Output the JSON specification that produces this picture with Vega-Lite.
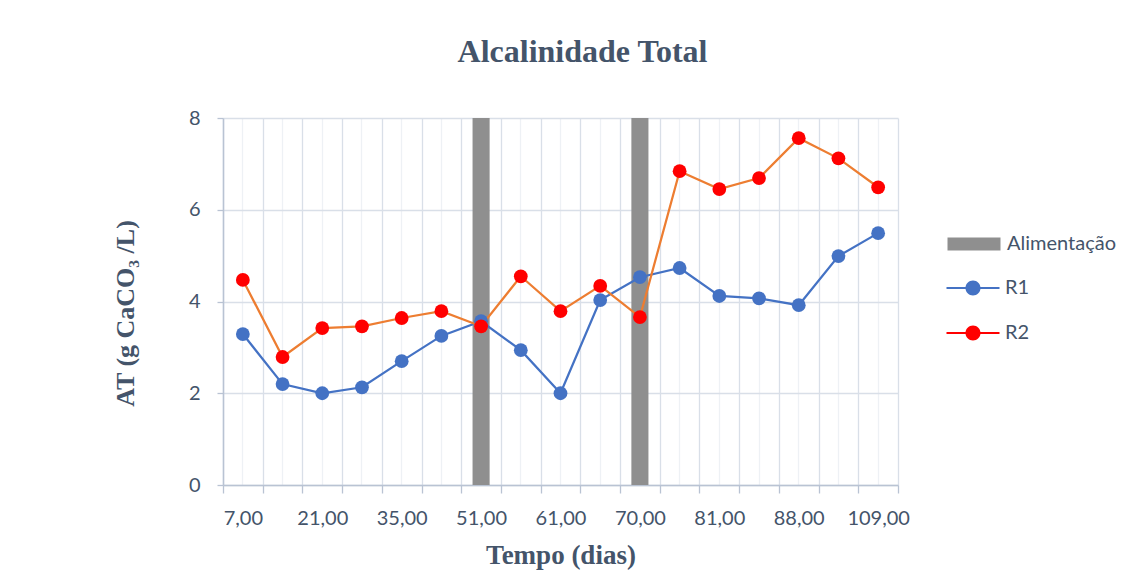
{
  "$schema": "https://vega.github.io/schema/vega-lite/v6.json",
  "width": 675,
  "height": 367,
  "autosize": "none",
  "padding": {"left": 223, "top": 118, "right": 242, "bottom": 98},
  "background": "white",
  "title": {
    "text": "Alcalinidade Total",
    "font": "Liberation Serif",
    "fontSize": 32,
    "fontWeight": "bold",
    "color": "#44546a",
    "anchor": "middle",
    "frame": "group",
    "baseline": "alphabetic",
    "dx": 22,
    "offset": 14
  },
  "datasets": {
    "alimentacao": [
      {"t": "51,00", "evento": "Alimentação", "at": 8},
      {"t": "70,00", "evento": "Alimentação", "at": 8}
    ],
    "reatores": [
      {"t": "7,00", "serie": "R1", "at": 3.29},
      {"t": "14,00", "serie": "R1", "at": 2.20},
      {"t": "21,00", "serie": "R1", "at": 2.00},
      {"t": "28,00", "serie": "R1", "at": 2.13},
      {"t": "35,00", "serie": "R1", "at": 2.70},
      {"t": "42,00", "serie": "R1", "at": 3.25},
      {"t": "51,00", "serie": "R1", "at": 3.57},
      {"t": "56,00", "serie": "R1", "at": 2.94},
      {"t": "61,00", "serie": "R1", "at": 2.00},
      {"t": "65,00", "serie": "R1", "at": 4.03},
      {"t": "70,00", "serie": "R1", "at": 4.53},
      {"t": "77,00", "serie": "R1", "at": 4.73},
      {"t": "81,00", "serie": "R1", "at": 4.12},
      {"t": "84,00", "serie": "R1", "at": 4.07},
      {"t": "88,00", "serie": "R1", "at": 3.92},
      {"t": "95,00", "serie": "R1", "at": 4.99},
      {"t": "109,00", "serie": "R1", "at": 5.49},
      {"t": "7,00", "serie": "R2", "at": 4.47},
      {"t": "14,00", "serie": "R2", "at": 2.79},
      {"t": "21,00", "serie": "R2", "at": 3.42},
      {"t": "28,00", "serie": "R2", "at": 3.46},
      {"t": "35,00", "serie": "R2", "at": 3.64},
      {"t": "42,00", "serie": "R2", "at": 3.79},
      {"t": "51,00", "serie": "R2", "at": 3.46},
      {"t": "56,00", "serie": "R2", "at": 4.55},
      {"t": "61,00", "serie": "R2", "at": 3.79},
      {"t": "65,00", "serie": "R2", "at": 4.34},
      {"t": "70,00", "serie": "R2", "at": 3.66},
      {"t": "77,00", "serie": "R2", "at": 6.84},
      {"t": "81,00", "serie": "R2", "at": 6.45},
      {"t": "84,00", "serie": "R2", "at": 6.69},
      {"t": "88,00", "serie": "R2", "at": 7.56},
      {"t": "95,00", "serie": "R2", "at": 7.12},
      {"t": "109,00", "serie": "R2", "at": 6.49}
    ]
  },
  "layer": [
    {
      "data": {"name": "alimentacao"},
      "mark": {"type": "bar", "width": {"band": 0.43}},
      "encoding": {
        "x": {
          "field": "t",
          "type": "nominal",
          "scale": {
            "type": "band",
            "paddingInner": 0,
            "paddingOuter": 0,
            "domain": ["7,00", "14,00", "21,00", "28,00", "35,00", "42,00", "51,00", "56,00", "61,00", "65,00", "70,00", "77,00", "81,00", "84,00", "88,00", "95,00", "109,00"]
          },
          "axis": {
            "title": "Tempo (dias)",
            "titleFontSize": 27,
            "tickBand": "extent",
            "grid": true,
            "gridColor": "#d9dfe8",
            "gridWidth": 1.3,
            "labelAngle": 0,
            "labelExpr": "round(datum.index * 16) % 2 == 0 ? datum.label : ''",
            "labelPadding": 15,
            "tickSize": 8,
            "titleY": 78,
            "titleBaseline": "alphabetic",
            "orient": "bottom"
          }
        },
        "y": {
          "field": "at",
          "type": "quantitative",
          "scale": {"domain": [0, 8], "nice": false},
          "axis": {
            "title": "AT (g CaCO₃ /L)",
            "titleFontSize": 26,
            "values": [0, 2, 4, 6, 8],
            "titleX": -90,
            "titleY": 195,
            "titleBaseline": "alphabetic",
            "labelPadding": 17,
            "tickSize": 6
          }
        },
        "color": {
          "field": "evento",
          "type": "nominal",
          "scale": {"range": ["#8f8f8f"]},
          "legend": {
            "title": null,
            "orient": "none",
            "legendX": 730,
            "legendY": 105,
            "padding": 0,
            "symbolType": "M-1.325,-0.33H1.325V0.33H-1.325Z",
            "symbolSize": 1600,
            "symbolOpacity": 1,
            "labelOffset": 12,
            "labelFont": "Lato",
            "labelFontSize": 20,
            "labelColor": "#44546a"
          }
        }
      }
    },
    {
      "data": {"name": "reatores"},
      "mark": {"type": "line", "strokeWidth": 2.25},
      "encoding": {
        "x": {"field": "t", "type": "nominal", "axis": null},
        "y": {"field": "at", "type": "quantitative"},
        "stroke": {
          "field": "serie",
          "type": "nominal",
          "scale": {"range": ["#4472c4", "#ed7d31"]},
          "legend": null
        }
      }
    },
    {
      "data": {"name": "reatores"},
      "mark": {"type": "point", "filled": true, "size": 190, "opacity": 1, "strokeWidth": 0},
      "encoding": {
        "x": {
          "field": "t",
          "type": "nominal",
          "axis": {
            "tickBand": "center",
            "grid": true,
            "gridColor": "#eef1f5",
            "gridWidth": 1.3,
            "labels": false,
            "ticks": false,
            "domain": false,
            "title": null,
            "orient": "top"
          }
        },
        "y": {"field": "at", "type": "quantitative"},
        "fill": {
          "field": "serie",
          "type": "nominal",
          "scale": {"range": ["#4472c4", "#ff0000"]},
          "legend": {
            "title": null,
            "orient": "none",
            "legendX": 730,
            "legendY": 150,
            "padding": 0,
            "symbolType": "M-1.325,-0.05H1.325V0.05H-1.325ZM0.375,0A0.375,0.375,0,1,1,-0.375,0A0.375,0.375,0,1,1,0.375,0Z",
            "symbolSize": 1600,
            "symbolOpacity": 1,
            "symbolStrokeWidth": 0,
            "rowPadding": 15,
            "labelOffset": 12,
            "labelFont": "Lato",
            "labelFontSize": 20,
            "labelColor": "#44546a"
          }
        }
      }
    }
  ],
  "resolve": {"axis": {"x": "independent"}},
  "config": {
    "view": {"stroke": null},
    "axis": {
      "labelFont": "Lato",
      "labelFontSize": 20,
      "labelColor": "#44546a",
      "titleFont": "Liberation Serif",
      "titleFontWeight": "bold",
      "titleColor": "#44546a",
      "domainColor": "#b9c3d3",
      "domainWidth": 1.5,
      "tickColor": "#b9c3d3",
      "tickWidth": 1.3,
      "gridColor": "#d9dfe8",
      "gridWidth": 1.3
    }
  }
}
